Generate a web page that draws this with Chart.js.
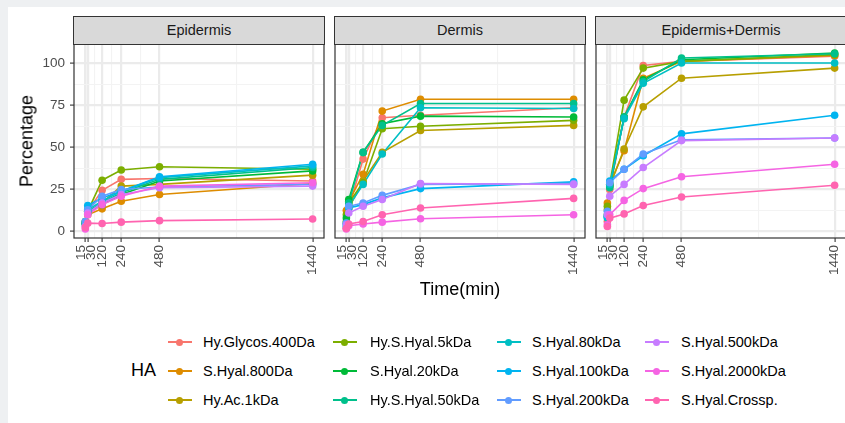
<!DOCTYPE html>
<html>
<head>
<meta charset="utf-8">
<script src="https://cdn.jsdelivr.net/npm/chart.js@4.4.0/dist/chart.umd.min.js"></script>
<style>
  html, body { margin:0; padding:0; width:845px; height:423px; overflow:hidden; background:#eef0f2; font-family:"Liberation Sans", Arial, sans-serif; }
  #fig { position:absolute; left:8px; top:7px; width:837px; height:416px; background:#ffffff; }
  canvas { position:absolute; }
  .strip { position:absolute; top:16px; height:27px; background:#d9d9d9; border:1px solid #333333; box-sizing:content-box; color:#1a1a1a; font-size:14.5px; text-align:center; line-height:27px; }
  .abs { position:absolute; white-space:nowrap; }
  .ytitle { left:27px; top:141px; font-size:18px; color:#000; transform:translate(-50%,-50%) rotate(-90deg); }
  .xtitle { left:460px; top:289px; font-size:18px; color:#000; transform:translate(-50%,-50%); }
  .lgtitle { left:131px; top:370px; font-size:18px; color:#000; transform:translateY(-50%); }
  .lgkey { position:absolute; width:24px; height:2px; transform:translateY(-50%); }
  .lgkey span { position:absolute; left:8px; top:-2.5px; width:7px; height:7px; border-radius:50%; }
  .lgtext { position:absolute; font-size:14.5px; color:#000; transform:translateY(-50%); white-space:nowrap; }
</style>
</head>
<body>
<div id="fig"></div>
<div id="root"></div>
<script>
// ---------------- data ----------------
const times = [15, 30, 120, 240, 480, 1440];
const timeLabels = ['15', '30', '120', '240', '480', '1440'];
const minorTimes = [22.5, 75, 180, 360, 960];
const yMajor = [0, 25, 50, 75, 100];
const yMinor = [12.5, 37.5, 62.5, 87.5];
const panelNames = ['Epidermis', 'Dermis', 'Epidermis+Dermis'];
const legendTitle = 'HA';
const seriesNames = ['Hy.Glycos.400Da', 'S.Hyal.800Da', 'Hy.Ac.1kDa', 'Hy.S.Hyal.5kDa',
  'S.Hyal.20kDa', 'Hy.S.Hyal.50kDa', 'S.Hyal.80kDa', 'S.Hyal.100kDa',
  'S.Hyal.200kDa', 'S.Hyal.500kDa', 'S.Hyal.2000kDa', 'S.Hyal.Crossp.'];

// rows follow seriesNames; columns follow times
const epidermis = [
  [4, 12, 24.5, 31, 31.5, 30],
  [5, 10, 13.5, 18, 22, 28.5],
  [5, 11, 17, 27, 28, 33.5],
  [6, 12, 30.5, 36.5, 38.5, 37],
  [5, 11, 16, 22, 30, 36],
  [6, 12, 17, 23, 31, 38],
  [5, 13, 18, 24, 32, 39],
  [4, 15.5, 20, 24, 32.5, 40],
  [6, 13, 21, 25, 26.5, 28],
  [3, 11, 17, 22, 26, 27],
  [1.5, 10, 16, 21, 27, 29],
  [2.5, 5, 4.8, 5.6, 6.5, 7.5]
];
const dermis = [
  [2, 14, 43, 67.5, 69, 73.5],
  [12.5, 18, 34, 71.5, 78.5, 78.5],
  [6, 14, 30, 47, 60, 63],
  [10, 17, 29, 61, 62.5, 66],
  [8, 19, 47, 64, 68.5, 68],
  [5, 17, 47, 63, 76, 76],
  [4, 15, 28, 46, 73.5, 73],
  [3, 14, 16, 20, 25.5, 29.5],
  [5, 15, 17, 21.5, 28, 28.5],
  [4, 11, 15, 19, 28.5, 28],
  [1.5, 3.5, 4.5, 5.6, 7.6, 10],
  [2, 4.5, 6, 10, 14, 19.7]
];
const epidermisDermis = [
  [6, 25, 68, 98.5, 101, 104],
  [17, 28, 48, 91, 101, 104.5],
  [13, 27, 49, 74, 91, 97],
  [15, 28, 78, 97, 101, 105],
  [10, 27, 68, 90, 102, 106],
  [9, 26, 68, 89, 103, 105.5],
  [8, 28, 67, 88, 100, 100],
  [9, 30, 37, 45, 58, 69],
  [12, 29, 37, 46, 54.5, 55.5],
  [10, 21, 28, 38, 54, 55.5],
  [4, 10, 18.5, 25.5, 32.5, 40],
  [3, 8, 10.5, 15.5, 20.5, 27.5]
];
const panelData = [epidermis, dermis, epidermisDermis];

// ---------------- style ----------------
const colors = ['#F8766D', '#DE8C00', '#B79F00', '#7CAE00', '#00BA38', '#00C08B',
  '#00BFC4', '#00B4F0', '#619CFF', '#C77CFF', '#F564E3', '#FF64B0'];
const PANEL_TOP = 44, PANEL_BOTTOM = 238;
const panelRects = [[74, 324], [335, 585], [596, 846]];
const X_MIN = -56.25, X_MAX = 1511.25, Y_MIN = -3.8, Y_MAX = 111.3;
const PAD = 3, X_AXIS_H = 50;
const LABEL_STEP = 4; // px, used to nudge the crowded 15 / 30 labels apart
const tickFont = { family: '"Liberation Sans", Arial, sans-serif', size: 13.5 };
const xTickFont = { family: '"Liberation Sans", Arial, sans-serif', size: 13.5, lineHeight: LABEL_STEP + 'px' };
const tickColor = '#4d4d4d';
// label layout: empty lines shift rotated text sideways by LABEL_STEP each
const labelShift = { 15: 1, 30: 3 };

const root = document.getElementById('root');

const borderPlugin = {
  id: 'panelBorder',
  afterDraw(chart) {
    const a = chart.chartArea, ctx = chart.ctx;
    ctx.save();
    ctx.strokeStyle = '#333333';
    ctx.lineWidth = 1.2;
    ctx.strokeRect(a.left, a.top, a.right - a.left, a.bottom - a.top);
    ctx.restore();
  }
};

function isMajorX(v) { return times.indexOf(v) >= 0; }
function isMajorY(v) { return yMajor.indexOf(v) >= 0; }
function xLabel(v) {
  const k = times.indexOf(v);
  if (k < 0) return '';
  const n = labelShift[v] !== undefined ? labelShift[v] : 2;
  const lines = [];
  for (let i = 0; i < n; i++) lines.push('');
  lines.push(timeLabels[k]);
  return lines;
}

panelRects.forEach((r, p) => {
  const [L, R] = r;
  const showY = p === 0;
  const yW = showY ? L : PAD;
  const cw = yW + (R - L) + PAD;
  const ch = PAD + (PANEL_BOTTOM - PANEL_TOP) + X_AXIS_H;
  const cv = document.createElement('canvas');
  cv.width = cw; cv.height = ch;
  cv.style.left = (L - yW) + 'px';
  cv.style.top = (PANEL_TOP - PAD) + 'px';
  cv.style.width = cw + 'px'; cv.style.height = ch + 'px';
  root.appendChild(cv);

  const strip = document.createElement('div');
  strip.className = 'strip';
  strip.style.left = (L - 1) + 'px';
  strip.style.width = (R - L) + 'px';
  strip.textContent = panelNames[p];
  root.appendChild(strip);

  const vals = panelData[p];
  const datasets = [];
  seriesNames.forEach((name, i) => {
    const pts = times.map((t, j) => ({ x: t, y: vals[i][j] }));
    datasets.push({ label: name, data: pts, borderColor: colors[i], backgroundColor: colors[i],
      borderWidth: 1.6, pointRadius: 0, pointHoverRadius: 0, tension: 0, order: 100 - i, clip: false });
  });
  seriesNames.forEach((name, i) => {
    const pts = times.map((t, j) => ({ x: t, y: vals[i][j] }));
    datasets.push({ label: name + ' pts', data: pts, showLine: false, borderColor: colors[i],
      backgroundColor: colors[i], pointRadius: 3.8, pointHoverRadius: 3.8, pointBorderWidth: 0,
      order: 50 - i, clip: false });
  });

  new Chart(cv, {
    type: 'line',
    data: { datasets },
    options: {
      responsive: false, animation: false, devicePixelRatio: 1, events: [],
      layout: { padding: { top: PAD, right: PAD, left: 0, bottom: 0 }, autoPadding: false },
      plugins: { legend: { display: false }, tooltip: { enabled: false } },
      scales: {
        x: {
          type: 'linear', min: X_MIN, max: X_MAX,
          afterBuildTicks: s => { s.ticks = times.concat(minorTimes).sort((a, b) => a - b).map(v => ({ value: v })); },
          afterFit: s => { s.height = X_AXIS_H; s.paddingLeft = 0; s.paddingRight = 0; },
          ticks: { autoSkip: false, minRotation: 90, maxRotation: 90, padding: 3, font: xTickFont, color: tickColor,
            labelOffset: -2 * LABEL_STEP, callback: v => xLabel(v) },
          grid: {
            color: c => isMajorX(c.tick.value) ? '#ebebeb' : '#f3f3f3',
            lineWidth: c => isMajorX(c.tick.value) ? 2.2 : 1.1,
            drawTicks: true, tickLength: 4, tickWidth: 1.1,
            tickColor: c => isMajorX(c.tick.value) ? '#333333' : 'rgba(0,0,0,0)'
          },
          border: { display: false }
        },
        y: {
          type: 'linear', min: Y_MIN, max: Y_MAX,
          afterBuildTicks: s => { s.ticks = yMajor.concat(yMinor).sort((a, b) => a - b).map(v => ({ value: v })); },
          afterFit: s => { s.width = yW; s.paddingTop = 0; s.paddingBottom = 0; },
          ticks: { display: showY, autoSkip: false, padding: 5, font: tickFont, color: tickColor,
            callback: v => isMajorY(v) ? String(v) : '' },
          grid: {
            color: c => isMajorY(c.tick.value) ? '#ebebeb' : '#f3f3f3',
            lineWidth: c => isMajorY(c.tick.value) ? 2.2 : 1.1,
            drawTicks: showY, tickLength: 4, tickWidth: 1.1,
            tickColor: c => isMajorY(c.tick.value) ? '#333333' : 'rgba(0,0,0,0)'
          },
          border: { display: false }
        }
      }
    },
    plugins: [borderPlugin]
  });
});

// axis titles
function addText(cls, txt) {
  const d = document.createElement('div');
  d.className = 'abs ' + cls;
  d.textContent = txt;
  root.appendChild(d);
  return d;
}
addText('ytitle', 'Percentage');
addText('xtitle', 'Time(min)');
addText('lgtitle', legendTitle);

// legend (3 rows, filled column by column)
const legKeyX = [168, 333, 497, 645];
const legTextX = [203, 370, 532, 681];
const legRowY = [342, 371, 400];
seriesNames.forEach((name, i) => {
  const col = Math.floor(i / 3), row = i % 3;
  const k = document.createElement('div');
  k.className = 'lgkey';
  k.style.left = legKeyX[col] + 'px';
  k.style.top = legRowY[row] + 'px';
  k.style.background = colors[i];
  const dot = document.createElement('span');
  dot.style.background = colors[i];
  k.appendChild(dot);
  root.appendChild(k);
  const t = document.createElement('div');
  t.className = 'lgtext';
  t.style.left = legTextX[col] + 'px';
  t.style.top = legRowY[row] + 'px';
  t.textContent = name;
  root.appendChild(t);
});
</script>
</body>
</html>
